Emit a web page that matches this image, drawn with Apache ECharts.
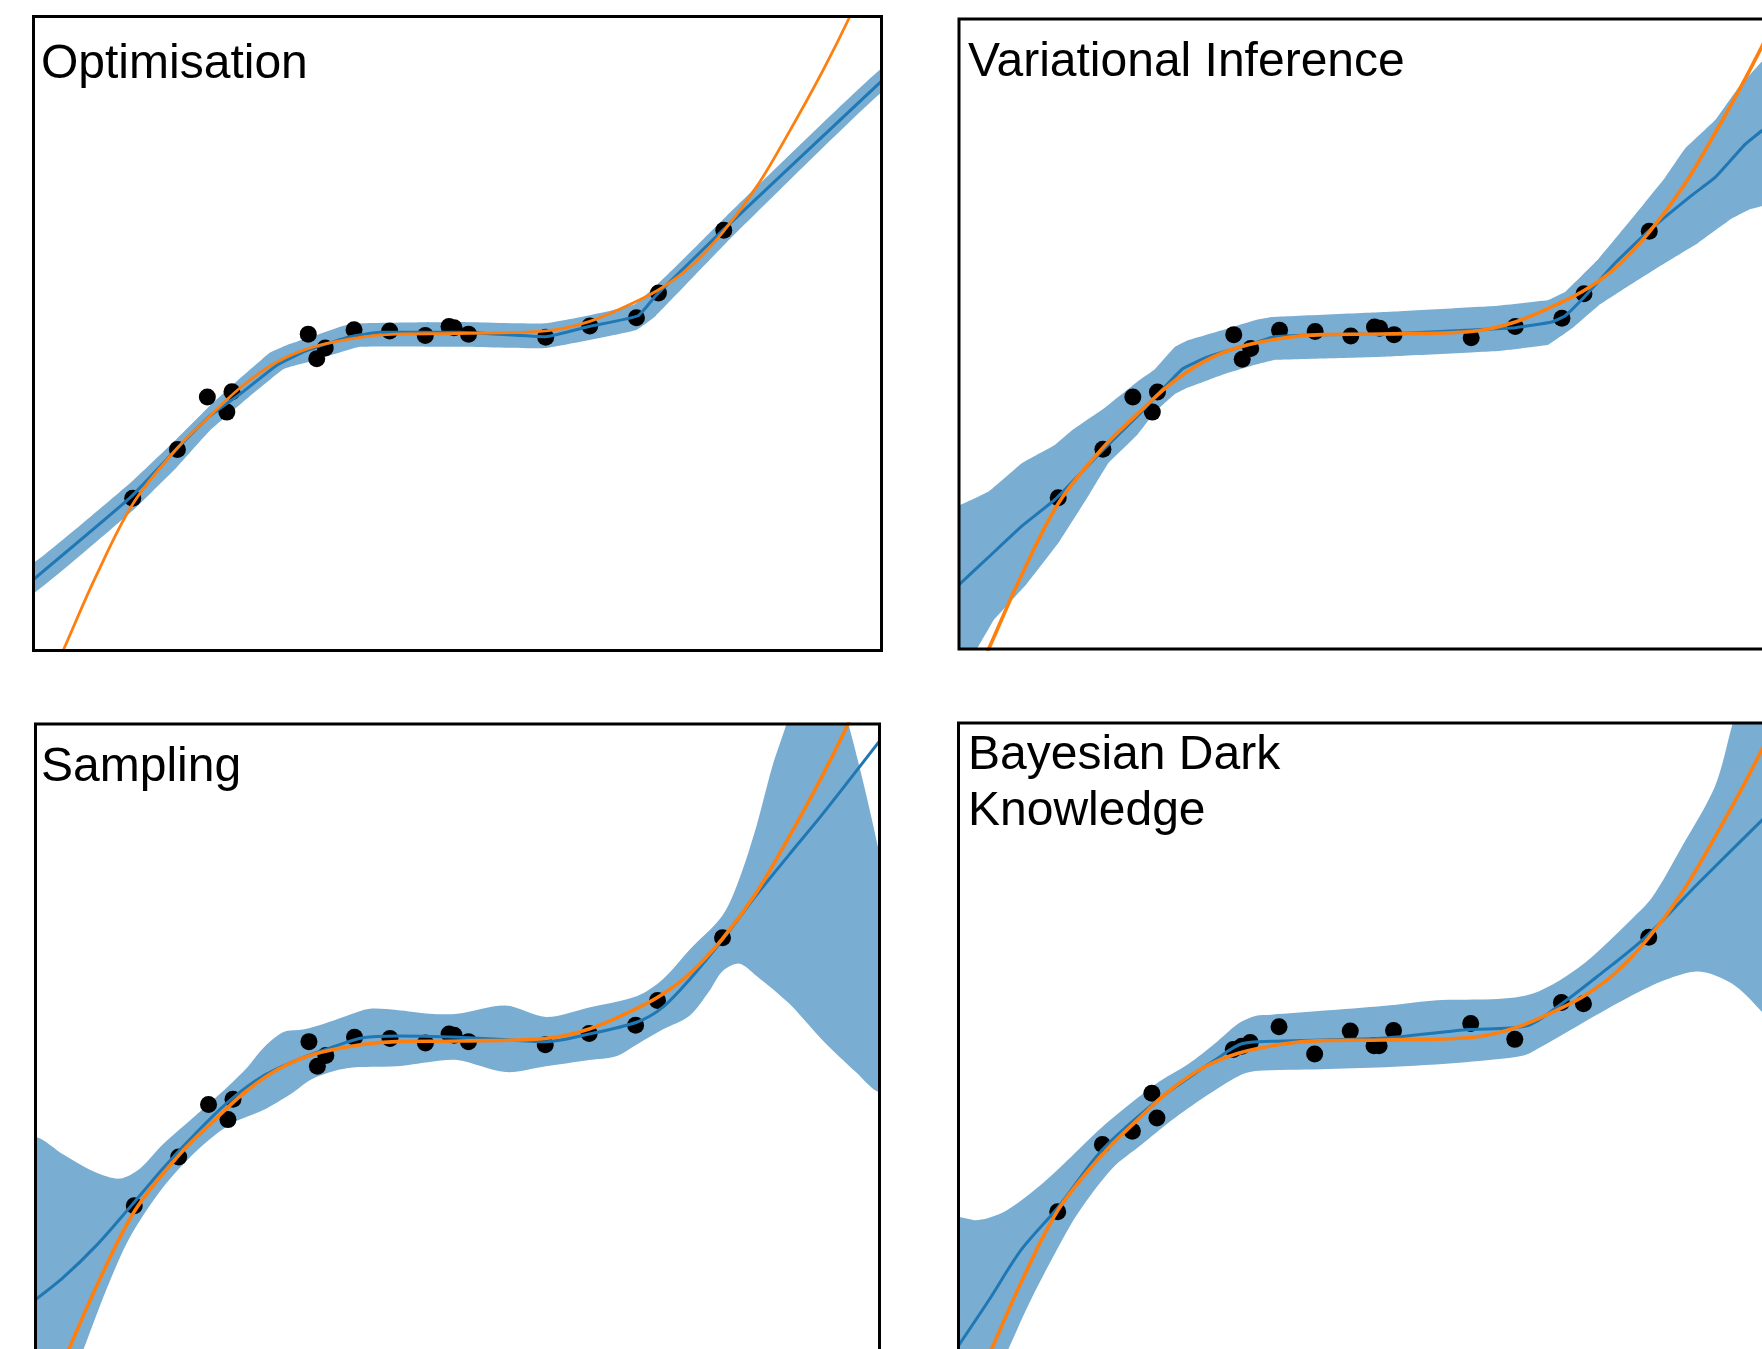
<!DOCTYPE html>
<html>
<head>
<meta charset="utf-8">
<script src="https://cdn.jsdelivr.net/npm/echarts@6/dist/echarts.min.js"></script>
<style>
  html, body { margin: 0; padding: 0; background: #ffffff; overflow: hidden; }
  /* the figure runs past the right and bottom edges of the window */
  #chart { width: 1830px; height: 1380px; }
</style>
</head>
<body>
<div id="chart"></div>
<script>
// Panel titles
const panelTitles = ['Optimisation', 'Variational Inference', 'Sampling', 'Bayesian Dark\nKnowledge'];

// Training observations (x shared by all panels; noise draw differs for the last panel)
const obsX = [11.7, 16.97, 20.5, 22.8, 23.4, 32.4, 33.4, 34.4, 37.8, 42.0, 46.2, 49.0, 49.6, 51.3, 60.4, 65.6, 71.1, 73.7, 81.4];
const obsY = [24.0, 31.7, 40.0, 37.6, 40.8, 49.9, 46.0, 47.7, 50.6, 50.4, 49.7, 51.1, 50.9, 49.9, 49.4, 51.2, 52.5, 56.4, 66.3];
const obsYBdk = [22.9, 33.5, 35.6, 41.6, 37.7, 48.5, 49.0, 49.6, 52.1, 47.8, 51.4, 49.1, 49.1, 51.5, 52.6, 50.1, 55.9, 55.7, 66.2];

// Ground-truth function
const trueCurve = [[2.5,-3],[3.5,0],[7.4,11.8],[11.8,23.3],[17.0,32.0],[20.8,37.0],[24.7,41.8],[28.7,45.5],[33.0,47.9],[38.5,49.4],[42.8,49.9],[50.0,50.0],[60.4,50.4],[65.6,51.9],[71.0,55.0],[74.2,57.3],[77.5,60.6],[81.3,66.0],[85.4,73.4],[89.2,82.0],[93.1,91.5],[96.2,99.8],[97.5,104]];

// Optimisation: predictive mean and band
const optMean = [[0,11.2],[11.4,24.1],[16.9,31.8],[20.8,37.0],[24.7,40.8],[28.7,45.0],[32.2,47.3],[37.3,49.5],[40.9,50.2],[50.3,50.2],[60.4,49.5],[65.5,51.1],[71.3,52.8],[73.4,56.0],[81.3,66.3],[100,89.8]];
const optUpper = [[0,13.8],[11.4,26.4],[16.9,33.4],[20.8,38.6],[24.0,42.5],[27.9,47.0],[29.9,48.2],[32.2,49.2],[37.3,51.5],[50.3,51.8],[60.4,51.6],[71.0,54.7],[81.7,68.5],[100,91.8]];
const optLower = [[0,9.0],[11.8,22.2],[16.9,28.9],[20.8,34.7],[24.7,39.2],[29.5,44.4],[33.0,45.7],[38.5,47.9],[50.3,47.9],[60.4,47.7],[71.0,50.5],[73.4,52.8],[81.7,64.3],[100,88.0]];

// Variational inference
const viMean = [[0,10.2],[3.5,14.6],[7.4,19.5],[11.3,23.7],[16.4,30.8],[21.5,37.6],[26.3,44.4],[29.4,46.4],[34.9,48.6],[37.3,49.6],[42.8,49.9],[50.2,50.0],[59.7,50.6],[65.6,51.0],[69.9,51.9],[71.5,52.9],[73.9,56.1],[77.4,61.3],[81.1,66.1],[86.4,72.0],[89.2,74.9],[92.7,80.1],[94.7,82.3],[100,88.5]];
const viUpper = [[0,22.8],[3.5,25.0],[7.4,29.5],[11.3,32.4],[13.3,34.7],[17.2,38.3],[21.1,42.5],[23.1,44.4],[25.5,48.0],[27.0,49.0],[31.0,50.6],[34.9,52.2],[36.9,52.7],[50.2,53.5],[63.6,54.5],[69.5,55.4],[71.5,56.7],[75.4,61.9],[79.4,68.4],[83.3,74.9],[85.6,79.4],[89.2,84.0],[91.9,89.1],[94.7,93.3],[100,101]];
const viLower = [[0,-2],[2.1,0],[4.1,4.6],[7.9,10.2],[11.8,17.0],[15.25,24.3],[17.6,29.5],[21.1,34.1],[23.1,37.6],[25.5,40.5],[27.0,41.5],[31.0,43.5],[34.9,45.1],[37.3,45.9],[50.2,46.4],[63.6,47.3],[69.5,48.3],[72.3,50.9],[75.4,54.5],[79.4,58.0],[83.3,61.3],[87.2,64.5],[91.2,68.4],[93.1,69.7],[94.7,70.3],[100,74]];

// Sampling
const sampMean = [[0,9.2],[3.3,12.7],[7.25,17.8],[11.2,23.8],[15.1,29.9],[19.1,35.6],[23.0,40.6],[27.0,44.5],[31.0,47.0],[34.9,48.9],[38.8,50.5],[42.8,50.8],[50.0,50.6],[55.7,50.2],[60.5,49.9],[65.6,51.1],[71.3,53.0],[74.3,55.3],[77.5,59.7],[81.4,66.0],[85.4,73.0],[89.3,79.4],[93.2,85.7],[100,97.3]];
const sampUpper = [[0,34.9],[3.3,32.1],[7.25,29.2],[10.0,28.3],[12.4,29.9],[15.1,33.7],[19.1,38.4],[22.3,42.2],[25.0,45.7],[27.0,48.9],[29.4,51.4],[31.7,51.8],[34.1,52.7],[36.9,54.0],[39.6,55.1],[42.8,54.9],[46.7,54.3],[50.0,54.3],[55.7,55.6],[60.5,53.8],[65.6,55.3],[71.3,57.1],[74.3,59.7],[77.5,64.4],[81.4,69.8],[83.4,75.6],[85.4,83.8],[87.3,93.3],[88.9,99.7],[90.3,106]];
const sampLower = [[0,-18],[5.7,1.4],[8.4,10.8],[11.2,19.1],[15.1,26.9],[19.1,32.7],[23.0,36.8],[27.0,39.1],[30.2,41.6],[32.9,44.1],[36.9,45.7],[42.8,46.0],[46.7,46.7],[50.0,47.0],[55.7,45.1],[60.5,46.0],[65.6,47.0],[68.8,47.6],[71.3,49.5],[74.3,51.8],[77.5,54.0],[79.8,57.8],[81.4,61.0],[83.4,62.2],[85.4,60.3],[89.3,55.9],[93.2,50.2],[97.2,45.1],[100,41.9]];

// Bayesian dark knowledge
const bdkMean = [[0,1.8],[3.5,8.8],[7.45,17.0],[11.8,23.7],[16.9,32.6],[23.2,40.2],[27.1,44.0],[30.2,46.8],[33.4,49.4],[36.9,49.8],[42.8,50.0],[50.3,50.3],[59.8,51.6],[66.9,52.2],[70.8,55.4],[75.5,60.2],[81.0,66.2],[87.3,74.8],[94.7,84.6],[100,91.5]];
const bdkUpper = [[0,22.1],[2.34,21.6],[5.5,23.0],[9.4,26.8],[13.3,31.6],[17.3,36.7],[23.2,43.0],[27.1,46.2],[30.2,49.4],[33.0,52.6],[35.0,53.8],[36.9,54.0],[42.8,54.6],[50.3,55.4],[55.8,56.2],[66.9,57.0],[73.1,61.4],[79.4,69.1],[81.8,72.5],[85.3,80.5],[89.2,90.0],[91.2,99.5],[92.3,105]];
const bdkLower = [[0,-16],[5.9,1.3],[8.2,8.1],[11.4,16.4],[14.1,22.7],[18.1,29.7],[21.6,33.5],[25.1,37.3],[29.1,41.1],[33.0,44.3],[35.0,45.1],[42.8,45.4],[50.3,45.7],[59.8,46.5],[66.5,47.5],[68.4,48.7],[73.5,52.6],[79.4,57.0],[83.4,59.5],[87.3,60.8],[91.2,58.9],[94.7,54.5],[100,46]];

// ---- layout & styling ----
const BAND = '#79add2';
const MEAN = '#1f77b4';
const TRUTH = '#ff7f0e';
const FONT = '"Liberation Sans", Arial, Helvetica, sans-serif';

const panels = [
  { rect: {left: 33.5, top: 16.5, width: 848, height: 634}, title: {x: 41, y: 37},
    mean: optMean, upper: optUpper, lower: optLower, obs: obsY, bandSmooth: 0.1, truthWidth: 2.8 },
  { rect: {left: 959, top: 19, width: 848, height: 630}, title: {x: 968, y: 35},
    mean: viMean, upper: viUpper, lower: viLower, obs: obsY, bandSmooth: 0.05, truthWidth: 3.6 },
  { rect: {left: 35.5, top: 724, width: 844, height: 634}, title: {x: 41, y: 740},
    mean: sampMean, upper: sampUpper, lower: sampLower, obs: obsY, bandSmooth: 0.3, truthWidth: 3.6 },
  { rect: {left: 958.5, top: 723, width: 848, height: 634}, title: {x: 968, y: 728},
    mean: bdkMean, upper: bdkUpper, lower: bdkLower, obs: obsYBdk, bandSmooth: 0.3, truthWidth: 3.6 }
];

const grid = [], xAxis = [], yAxis = [], series = [], graphic = [];

panels.forEach((p, i) => {
  grid.push(Object.assign({ show: false }, p.rect));
  xAxis.push({ type: 'value', gridIndex: i, min: 0, max: 100, show: false });
  yAxis.push({ type: 'value', gridIndex: i, min: 0, max: 100, show: false });

  // uncertainty band as a filled polygon between the upper and lower edges
  series.push({
    type: 'custom',
    xAxisIndex: i, yAxisIndex: i,
    clip: true, silent: true, z: 1,
    data: [[50, 50]],
    renderItem: function (params, api) {
      const up = p.upper.map(d => api.coord(d));
      const lo = p.lower.map(d => api.coord(d));
      // pad the ends horizontally so corner smoothing stays outside the plot area
      const pad = 40;
      const top = [[up[0][0] - pad, up[0][1]]].concat(up, [[up[up.length - 1][0] + pad, up[up.length - 1][1]]]);
      const bot = [[lo[0][0] - pad, lo[0][1]]].concat(lo, [[lo[lo.length - 1][0] + pad, lo[lo.length - 1][1]]]);
      const pts = top.concat(bot.reverse());
      return {
        type: 'polygon',
        shape: { points: pts, smooth: p.bandSmooth },
        style: { fill: BAND, stroke: null }
      };
    }
  });

  // observations
  series.push({
    type: 'scatter',
    xAxisIndex: i, yAxisIndex: i,
    symbol: 'circle', symbolSize: 17,
    itemStyle: { color: '#000000', opacity: 1 },
    silent: true, z: 3,
    data: obsX.map((x, k) => [x, p.obs[k]])
  });

  // predictive mean
  series.push({
    type: 'line',
    xAxisIndex: i, yAxisIndex: i,
    data: p.mean, showSymbol: false, symbol: 'none',
    smooth: i >= 2 ? 0.3 : 0.12,
    lineStyle: { color: MEAN, width: 3 },
    silent: true, z: 4
  });

  // ground truth
  series.push({
    type: 'line',
    xAxisIndex: i, yAxisIndex: i,
    data: trueCurve, showSymbol: false, symbol: 'none',
    smooth: 0.35,
    lineStyle: { color: TRUTH, width: p.truthWidth },
    silent: true, z: 5
  });

  // frame drawn above the plotted content
  graphic.push({
    type: 'rect', z: 100, silent: true,
    shape: { x: p.rect.left, y: p.rect.top, width: p.rect.width, height: p.rect.height },
    style: { fill: null, stroke: '#000000', lineWidth: 3 }
  });

  graphic.push({
    type: 'text', z: 101, silent: true,
    x: p.title.x, y: p.title.y,
    style: {
      text: panelTitles[i],
      fontSize: 48, fontFamily: FONT, fontWeight: 'normal',
      lineHeight: 56, fill: '#000000',
      align: 'left', verticalAlign: 'top'
    }
  });
});

const chart = echarts.init(document.getElementById('chart'), null, { renderer: 'canvas' });
chart.setOption({
  animation: false,
  backgroundColor: '#ffffff',
  grid, xAxis, yAxis, series, graphic
});
</script>
</body>
</html>
